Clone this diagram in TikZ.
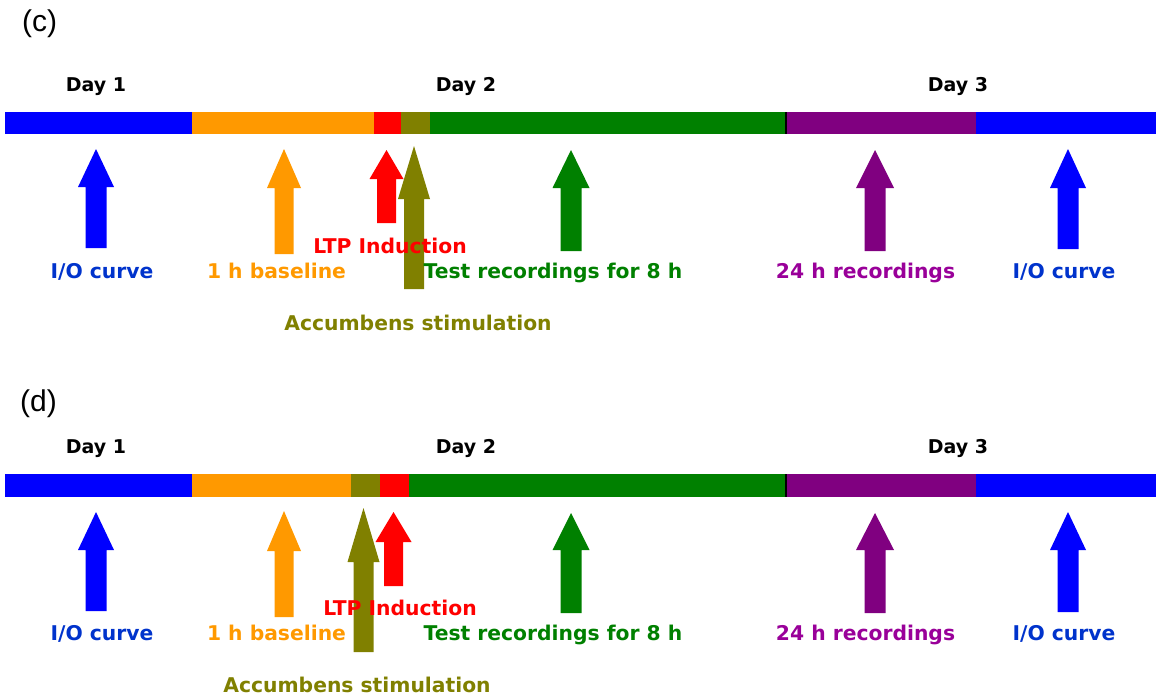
\documentclass[tikz,border=0pt]{standalone}
\usepackage{fontspec}
\setmainfont{DejaVu Sans}
\newfontfamily\panelfont{Liberation Sans}
\definecolor{cblue}{HTML}{0000FF}
\definecolor{corange}{HTML}{FF9900}
\definecolor{cred}{HTML}{FF0000}
\definecolor{colive}{HTML}{808000}
\definecolor{cgreen}{HTML}{008000}
\definecolor{cpurple}{HTML}{800080}
\definecolor{tblue}{HTML}{0033CC}
\definecolor{tpurple}{HTML}{990099}
% block arrow: color, cx, tip y, head-base y, bottom y, head half width, shaft half width
\newcommand\blockarrow[7]{%
  \fill[#1] ({#2},{#3}) -- ({#2+#6},{#4}) -- ({#2+#7},{#4}) -- ({#2+#7},{#5})
    -- ({#2-#7},{#5}) -- ({#2-#7},{#4}) -- ({#2-#6},{#4}) -- cycle;}
\tikzset{
  lab/.style={anchor=base, inner sep=0pt, font=\fontsize{20.3}{24}\selectfont\bfseries},
  day/.style={anchor=base, inner sep=0pt, font=\fontsize{19}{23}\selectfont\bfseries, text=black},
  panel/.style={anchor=base west, inner sep=0pt, font=\panelfont\fontsize{30}{34}\selectfont},
}
\begin{document}
\begin{tikzpicture}[x=1pt, y=-1pt]
\useasboundingbox (0,0) rectangle (1156,698);
% ================= panel (c) =================
\node[panel] (pc) at (22,32) {(c)};
\node[day] (c-d1) at (96,91.5) {Day 1};
\node[day] (c-d2) at (466,91.5) {Day 2};
\node[day] (c-d3) at (958,91.5) {Day 3};
% bar
\fill[cblue]   (5,111.7) rectangle (192,134);
\fill[corange] (192,111.7) rectangle (374,134);
\fill[cred]    (374,111.7) rectangle (401,134);
\fill[colive]  (401,111.7) rectangle (430,134);
\fill[cgreen]  (430,111.7) rectangle (785,134);
\fill[black]   (785,111.7) rectangle (787,134);
\fill[cpurple] (787,111.7) rectangle (976,134);
\fill[cblue]   (976,111.7) rectangle (1156,134);
% arrows
\blockarrow{cblue}{96}{149}{187}{248}{18}{10.5}
\blockarrow{corange}{284}{149}{188}{254}{17}{9.5}
\blockarrow{cred}{386.5}{150}{179}{223}{17}{9.5}
\blockarrow{colive}{414}{146}{199}{289}{16}{10}
\blockarrow{cgreen}{571}{150}{188}{251}{18.5}{10.5}
\blockarrow{cpurple}{875}{150}{188}{251}{19}{10.5}
\blockarrow{cblue}{1068}{149}{188}{249}{18}{10.5}
% labels
\node[lab, text=tblue]   (c-io1)  at (102,278) {I/O curve};
\node[lab, text=corange] (c-base) at (276.5,278) {1 h baseline};
\node[lab, text=cred]    (c-ltp)  at (390,253) {LTP Induction};
\node[lab, text=cgreen]  (c-test) at (553,278) {Test recordings for 8 h};
\node[lab, text=tpurple] (c-24)   at (865.5,278) {24 h recordings};
\node[lab, text=tblue]   (c-io2)  at (1064,278) {I/O curve};
\node[lab, text=colive]  (c-acc)  at (418,330) {Accumbens stimulation};
% ================= panel (d) =================
\node[panel] (pd) at (20,411.5) {(d)};
\node[day] (d-d1) at (96,453) {Day 1};
\node[day] (d-d2) at (466,453) {Day 2};
\node[day] (d-d3) at (958,453) {Day 3};
% bar
\fill[cblue]   (5,474.3) rectangle (192,496.7);
\fill[corange] (192,474.3) rectangle (351,496.7);
\fill[colive]  (351,474.3) rectangle (380,496.7);
\fill[cred]    (380,474.3) rectangle (409,496.7);
\fill[cgreen]  (409,474.3) rectangle (785,496.7);
\fill[black]   (785,474.3) rectangle (787,496.7);
\fill[cpurple] (787,474.3) rectangle (976,496.7);
\fill[cblue]   (976,474.3) rectangle (1156,496.7);
% arrows
\blockarrow{cblue}{96}{512}{550}{611}{18}{10.5}
\blockarrow{corange}{284}{511}{551}{617}{17}{9.5}
\blockarrow{colive}{363.5}{508}{562}{652}{16}{10}
\blockarrow{cred}{393.5}{512}{542}{586}{18}{9.5}
\blockarrow{cgreen}{571}{513}{550}{613}{18.5}{10.5}
\blockarrow{cpurple}{875}{513}{550}{613}{19}{10.5}
\blockarrow{cblue}{1068}{512}{550}{612}{18}{10.5}
% labels
\node[lab, text=tblue]   (d-io1)  at (102,640) {I/O curve};
\node[lab, text=corange] (d-base) at (276.5,640) {1 h baseline};
\node[lab, text=cred]    (d-ltp)  at (400,615) {LTP Induction};
\node[lab, text=cgreen]  (d-test) at (553,640) {Test recordings for 8 h};
\node[lab, text=tpurple] (d-24)   at (865.5,640) {24 h recordings};
\node[lab, text=tblue]   (d-io2)  at (1064,640) {I/O curve};
\node[lab, text=colive]  (d-acc)  at (357,692) {Accumbens stimulation};
\end{tikzpicture}
\end{document}
